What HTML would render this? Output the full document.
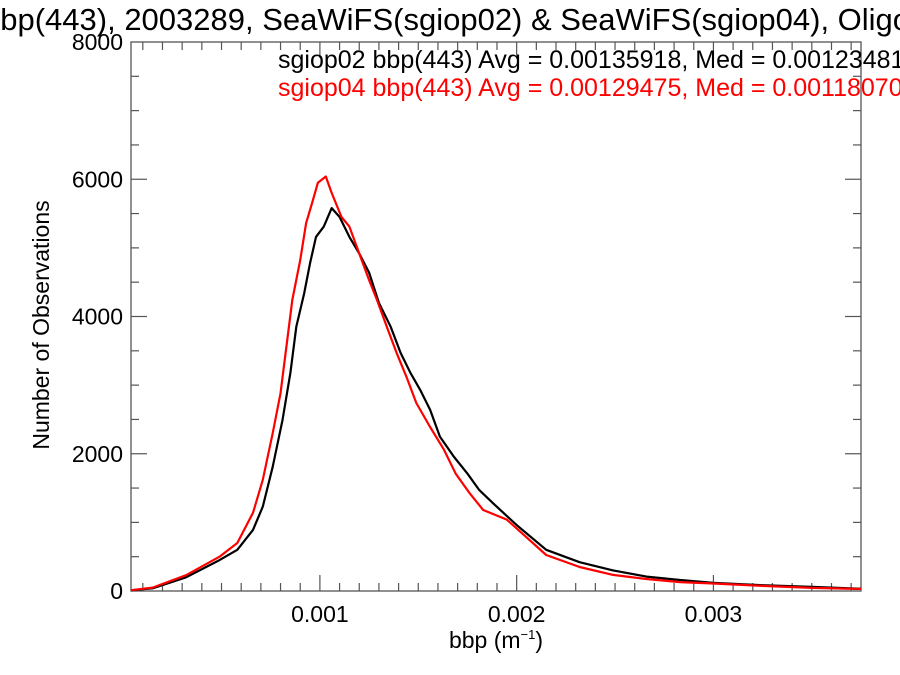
<!DOCTYPE html>
<html><head><meta charset="utf-8"><style>
html,body{margin:0;padding:0;background:#fff;}
svg{display:block;font-family:"Liberation Sans",Arial,sans-serif;}
</style></head><body>
<svg id="chart" width="900" height="675" viewBox="0 0 900 675" xmlns="http://www.w3.org/2000/svg">
<rect width="900" height="675" fill="#fff"/>
<text x="-17" y="30" font-size="31" fill="#000">bbp(443), 2003289, SeaWiFS(sgiop02) &amp; SeaWiFS(sgiop04), Oligotrophic</text>
<g id="axes"></g>
<g id="series"></g>
<text x="278" y="68" font-size="25" fill="#000">sgiop02 bbp(443) Avg = 0.00135918, Med = 0.00123481</text>
<text x="278" y="96" font-size="25" fill="#ff0000">sgiop04 bbp(443) Avg = 0.00129475, Med = 0.00118070</text>
<text x="496" y="648" font-size="23" text-anchor="middle">bbp (m<tspan font-size="13" dy="-9">−1</tspan><tspan dy="9">)</tspan></text>
<text transform="translate(49,325) rotate(-90)" font-size="23" text-anchor="middle">Number of Observations</text>
</svg>
<script>
const xMin = 0.00004, xMax = 0.003750;
const yMin = 0, yMax = 8000;
const xTicks = [0.001, 0.002, 0.003];
const xTickLabels = ["0.001", "0.002", "0.003"];
const yTicks = [0, 2000, 4000, 6000, 8000];
const yTickLabels = ["0", "2000", "4000", "6000", "8000"];
const bbpBlack = [0.00004,0.00015,0.00032,0.00049,0.00058,0.00066,0.00071,0.00076,0.00081,0.00085,0.00088,0.00092,0.00095,0.00098,0.00102,0.00106,0.0011,0.00115,0.0012,0.00125,0.0013,0.00136,0.00141,0.00146,0.00151,0.00156,0.00161,0.00168,0.00175,0.00181,0.00188,0.002,0.00215,0.00232,0.00249,0.00266,0.00283,0.003,0.00325,0.0035,0.00373];
const countBlack = [10,40,200,450,600,890,1230,1810,2490,3180,3850,4340,4780,5160,5310,5580,5450,5160,4920,4640,4200,3850,3470,3180,2930,2640,2250,1960,1710,1470,1280,960,600,420,300,210,160,120,85,60,35];
const bbpRed = [0.00004,0.00015,0.00032,0.00049,0.00058,0.00066,0.00071,0.00076,0.00080,0.00083,0.00086,0.00090,0.00093,0.00096,0.00099,0.00103,0.00106,0.00111,0.00115,0.0012,0.00125,0.00129,0.00134,0.00139,0.00144,0.00149,0.00156,0.00163,0.00169,0.00176,0.00183,0.00195,0.00215,0.00232,0.00249,0.00266,0.00283,0.003,0.00325,0.0035,0.00373];
const countRed = [12,50,230,500,700,1140,1620,2300,2880,3560,4240,4820,5360,5650,5950,6040,5800,5450,5310,4920,4530,4240,3850,3470,3120,2740,2390,2060,1710,1430,1180,1040,525,350,235,175,130,110,75,45,30];

const L=131,R=861,T=42,B=591;
const NS="http://www.w3.org/2000/svg";
function xs(v){return L+(v-xMin)/(xMax-xMin)*(R-L);}
function ys(v){return B-(v-yMin)/(yMax-yMin)*(B-T);}
function mk(tag,attrs,parent){const e=document.createElementNS(NS,tag);for(const k in attrs)e.setAttribute(k,attrs[k]);parent.appendChild(e);return e;}
const axes=document.getElementById('axes');
const frame=mk('rect',{x:L,y:T,width:R-L,height:B-T,fill:'none',stroke:'#555','stroke-width':1.3},axes);


for(let i=1;i<=37;i++){
  const v=i*0.0001; if(v<xMin||v>xMax) continue;
  const major=(i%10===0); const len=major?16:8; const x=xs(v);
  const t1=mk('line',{x1:x,y1:B,x2:x,y2:B-len,stroke:'#555','stroke-width':1.2},axes);
  
  
  const t2=mk('line',{x1:x,y1:T,x2:x,y2:T+len,stroke:'#555','stroke-width':1.2},axes);
  
  
}
xTicks.forEach((v,i)=>{
  const t=mk('text',{x:xs(v),y:622,'font-size':23,'text-anchor':'middle'},axes);
  t.textContent=xTickLabels[i];
  
  
});
for(let v=500;v<8000;v+=500){
  const major=(v%2000===0); const len=major?16:8; const y=ys(v);
  const t1=mk('line',{x1:L,y1:y,x2:L+len,y2:y,stroke:'#555','stroke-width':1.2},axes);
  
  
  const t2=mk('line',{x1:R,y1:y,x2:R-len,y2:y,stroke:'#555','stroke-width':1.2},axes);
  
  
}
yTicks.forEach((v,i)=>{
  const t=mk('text',{x:123,y:ys(v)+8,'font-size':23,'text-anchor':'end'},axes);
  t.textContent=yTickLabels[i];
  
  
});
function linePath(xv,cv){
  let d='';
  for(let i=0;i<xv.length;i++){
    d+=(i===0?'M':'L')+xs(xv[i]).toFixed(1)+','+ys(cv[i]).toFixed(1)+' ';
  }
  d+='L'+xs(xMax).toFixed(1)+','+ys(cv[cv.length-1]).toFixed(1);
  return d;
}
const series=document.getElementById('series');
const pb=mk('path',{d:linePath(bbpBlack,countBlack),fill:'none',stroke:'#000','stroke-width':2.2,'stroke-linejoin':'round'},series);


const pr=mk('path',{d:linePath(bbpRed,countRed),fill:'none',stroke:'#ff0000','stroke-width':2.2,'stroke-linejoin':'round'},series);


</script>
</body></html>
